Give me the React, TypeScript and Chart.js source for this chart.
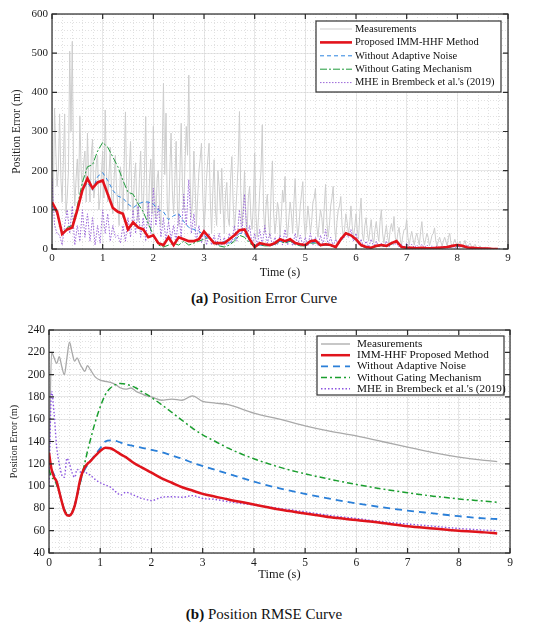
import { Chart, registerables } from "chart.js";
import { useEffect, useRef } from "react";

Chart.register(...registerables);

const SERIF = "'Liberation Serif', 'Times New Roman', serif";

// (a) position error: smooth filters every 0.1 s, MHE every 0.05 s,
// measurements every 0.025 s (on-grid samples + the samples halfway between)
const ERR_STEP = 0.05;
const ERR_STEP_COARSE = 0.1;

const errMeasurements = [
  200, 360, 160, 345, 120, 345, 130, 505, 530, 110, 230, 340, 150, 250, 296, 120, 280, 160, 240, 130,
  250, 355, 120, 260, 90, 240, 110, 210, 80, 350, 100, 275, 90, 220, 70, 250, 90, 338, 60, 230,
  313, 80, 200, 60, 423, 347, 70, 296, 90, 275, 60, 321, 100, 313, 444, 80, 250, 60, 200, 270,
  50, 180, 270, 40, 228, 60, 160, 206, 40, 170, 60, 236, 50, 150, 351, 60, 200, 40, 160, 50,
  245, 30, 150, 317, 40, 140, 30, 225, 40, 120, 30, 150, 185, 30, 120, 40, 180, 30, 110, 172,
  30, 110, 40, 120, 155, 30, 100, 40, 165, 30, 110, 160, 25, 100, 134, 30, 90, 40, 110, 30,
  90, 25, 130, 20, 80, 20, 75, 15, 70, 20, 100, 15, 60, 15, 65, 83, 15, 55, 10, 50,
  75, 10, 45, 10, 40, 10, 70, 10, 40, 8, 35, 54, 8, 30, 8, 30, 6, 40, 5, 25,
  5, 20, 4, 22, 4, 15, 3, 12, 2, 8, 2, 5, 1, 3, 1, 2, 0, 0,
];

const errMeasurementsMid = [
  120, 250, 200, 180, 230, 90, 200, 300, 200, 180, 140, 200, 220, 120, 180, 240, 130, 220, 100, 190,
  130, 200, 190, 140, 180, 150, 60, 180, 220, 150, 200, 140, 180, 110, 180, 120, 200, 110, 180, 90,
  150, 180, 90, 240, 190, 110, 200, 150, 180, 110, 200, 160, 220, 240, 180, 120, 160, 130, 230, 140,
  100, 230, 120, 150, 100, 200, 90, 110, 140, 80, 180, 120, 90, 220, 150, 110, 90, 130, 80, 120,
  90, 80, 200, 100, 110, 70, 150, 90, 70, 100, 80, 120, 70, 80, 90, 120, 80, 60, 140, 70,
  60, 80, 70, 130, 60, 70, 80, 110, 70, 60, 130, 60, 70, 110, 60, 50, 70, 60, 60, 55,
  50, 90, 40, 60, 40, 50, 30, 50, 40, 70, 40, 40, 30, 50, 45, 30, 40, 25, 35, 50,
  30, 30, 25, 30, 25, 45, 30, 25, 30, 20, 40, 20, 20, 18, 20, 20, 30, 15, 15, 15,
  12, 10, 12, 10, 10, 8, 8, 5, 5, 3, 3, 2, 2, 1, 1, 0, 0,
];

const errMhe = [
  180, 60, 40, 35, 10, 60, 100, 40, 110, 10, 60, 20, 100, 30, 90, 20, 80, 10, 60, 15,
  100, 40, 90, 20, 60, 30, 35, 15, 60, 20, 80, 30, 100, 40, 110, 30, 80, 20, 120, 40,
  155, 60, 110, 30, 80, 20, 70, 25, 60, 20, 90, 30, 140, 60, 177, 40, 90, 20, 60, 15,
  50, 10, 40, 10, 35, 8, 40, 10, 30, 10, 40, 15, 60, 20, 100, 40, 140, 30, 60, 10,
  40, 8, 50, 10, 60, 15, 40, 8, 30, 10, 35, 10, 50, 10, 30, 8, 40, 10, 35, 8,
  30, 8, 40, 10, 30, 8, 35, 10, 50, 10, 30, 8, 25, 10, 30, 25, 40, 30, 50, 20,
  40, 10, 25, 5, 20, 5, 25, 5, 20, 5, 15, 5, 20, 5, 15, 10, 15, 5, 12, 4,
  15, 5, 12, 4, 10, 3, 12, 4, 10, 3, 8, 3, 8, 2, 8, 3, 6, 2, 8, 2,
  10, 3, 8, 4, 10, 3, 5, 2, 4, 1, 3, 1, 2, 1, 1, 0, 1, 0,
];

const errProposed = [
  120, 95, 38, 50, 55, 100, 150, 180, 155, 170,
  175, 140, 105, 95, 90, 50, 68, 55, 50, 30,
  35, 15, 10, 30, 10, 30, 25, 20, 20, 25,
  45, 30, 15, 15, 15, 25, 35, 48, 50, 25,
  5, 15, 12, 10, 15, 25, 20, 25, 15, 12,
  10, 20, 22, 10, 12, 10, 5, 25, 40, 35,
  25, 10, 5, 3, 8, 10, 8, 15, 20, 5,
  3, 3, 2, 3, 2, 2, 3, 4, 5, 8,
  10, 8, 4, 3, 2, 1, 1, 0, 0,
];

const errNoAdaptive = [
  110, 90, 40, 50, 55, 95, 150, 170, 150, 185,
  195, 175, 150, 135, 130, 115, 105, 115, 120, 120,
  115, 100, 95, 75, 85, 90, 70, 55, 50, 45,
  35, 25, 20, 10, 20, 15, 25, 40, 40, 20,
  5, 10, 10, 8, 12, 20, 18, 20, 12, 10,
  8, 15, 18, 8, 10, 8, 5, 20, 38, 33,
  22, 8, 4, 3, 7, 8, 7, 13, 18, 4,
  3, 2, 2, 2, 2, 2, 2, 3, 4, 6,
  8, 6, 3, 2, 1, 1, 0, 0, 0,
];

const errNoGating = [
  120, 90, 40, 55, 60, 110, 170, 210, 215, 250,
  272, 260, 235, 210, 175, 145, 140, 115, 95, 65,
  35, 10, 5, 10, 15, 10, 20, 10, 15, 20,
  25, 30, 15, 8, 5, 10, 20, 35, 30, 15,
  5, 10, 8, 8, 12, 20, 15, 20, 12, 8,
  8, 15, 15, 8, 10, 8, 5, 22, 42, 35,
  22, 8, 3, 3, 6, 8, 6, 12, 18, 4,
  2, 2, 2, 2, 1, 1, 2, 3, 4, 6,
  8, 6, 3, 2, 1, 1, 0, 0, 0,
];

// (b) position RMSE
const rmseTime = [
  0, 0.05, 0.1, 0.15, 0.2, 0.25, 0.3, 0.35, 0.4, 0.45,
  0.5, 0.55, 0.6, 0.65, 0.7, 0.75, 0.8, 0.9,
  1.0, 1.1, 1.2, 1.3, 1.4, 1.5, 1.6, 1.7, 1.8, 1.9,
  2.0, 2.2, 2.4, 2.6, 2.8, 3.0, 3.25, 3.5,
  4, 4.5, 5, 5.5, 6, 6.5, 7, 7.5, 8, 8.5, 8.75,
];
const rmseMeasurements = [
  110, 220, 215, 210, 216, 207, 200, 215, 229, 220,
  212, 215, 210, 206, 203, 208, 205, 198,
  195, 194, 193, 191, 188, 187, 188, 185, 183, 181,
  180, 177, 178, 177, 181, 176, 174.5, 173,
  165.5, 160, 154, 149, 145, 140, 135, 130, 126, 123, 122,
];
const rmseProposed = [
  130, 115, 108, 104, 95, 86, 78, 74, 73.5, 76,
  82, 92, 104, 112, 117, 120, 122, 127,
  131.5, 134.5, 134, 131.5, 128.5, 126, 122.5, 119.5, 117, 114.5,
  112, 107, 103, 99, 96, 93, 90.5, 88,
  83.5, 79, 75.5, 72, 69.5, 67, 64, 62, 60, 58.5, 57.5,
];
const rmseNoAdaptive = [
  125, 115, 110, 103, 95, 86, 79, 75, 74, 76,
  82, 92, 102, 110, 115, 119, 122, 128,
  134, 140, 141, 140.5, 139, 137.5, 136.5, 135.5, 134.5, 133.5,
  132.5, 130.5, 127.5, 124.5, 121, 118, 114.5, 111,
  104, 98, 93, 88.5, 84.5, 81, 78, 75.5, 73, 71, 70.5,
];
const rmseNoGating = [
  115, 108, 106, 101, 94, 86, 79, 75, 74, 77,
  83, 92, 101, 111, 121, 131, 140, 157,
  171, 182, 188, 191, 192, 191.5, 190, 188, 185, 182.5,
  179.5, 173, 166, 159, 152, 146, 140, 134,
  124.5, 117, 111, 106, 101.5, 97.5, 94, 91, 88.5, 86.5, 85.5,
];
const rmseMhe = [
  100, 185, 165, 135, 120, 110, 108, 125, 120, 112,
  108, 115, 113, 112, 113, 111, 110, 106,
  103, 101, 99, 95, 92, 94.5, 93, 91, 89, 88,
  87, 90, 90.5, 90, 91.5, 89, 88, 86,
  83, 80, 77, 73.5, 71, 68, 66, 64, 62, 60.5, 60,
];

const even = (vals: number[], step: number) => vals.map((v, i) => ({ x: i * step, y: v }));
const paired = (xs: number[], vals: number[]) => vals.map((v, i) => ({ x: xs[i], y: v }));
// on-grid samples followed by the in-between ones, then sorted by time
const interleaved = (onGrid: number[], mid: number[], step: number) =>
  [...even(onGrid, step), ...mid.map((v, i) => ({ x: i * step + step / 2, y: v }))].sort((a, b) => a.x - b.x);

type Trace = {
  label: string;
  points: { x: number; y: number }[];
  color: string;
  width: number;
  dash: number[];
  smooth?: boolean;
};

type Panel = {
  traces: Trace[];
  width: number;
  height: number;
  yMin: number;
  yMax: number;
  yStep: number;
  yMinor: number;
  xMinor: number;
  pad: { left: number; right: number; top: number };
  yAxisWidth: number;
  xAxisHeight: number;
  tickFont: number;
  xTitleFont: number;
  yTitleFont: number;
  yTitlePad: number;
  legend: { left: number; top: number; width: number; height: number; firstRow: number; rowGap: number; sample: number; textX: number; font: number };
};

// minor dotted grid underneath, box frame with inward ticks and the legend on top
const boxPlugin = {
  id: "box",
  beforeDatasetsDraw(chart: any, _args: any, opts: any) {
    const { ctx, chartArea: a, scales } = chart;
    ctx.save();
    ctx.strokeStyle = "#d4d4d4";
    ctx.lineWidth = 0.7;
    ctx.setLineDash([1, 2]);
    ctx.beginPath();
    for (let v = scales.x.min; v <= scales.x.max + 1e-6; v += opts.xMinor) {
      const px = Math.round(scales.x.getPixelForValue(v)) + 0.5;
      ctx.moveTo(px, a.top);
      ctx.lineTo(px, a.bottom);
    }
    for (let v = scales.y.min; v <= scales.y.max + 1e-6; v += opts.yMinor) {
      const py = Math.round(scales.y.getPixelForValue(v)) + 0.5;
      ctx.moveTo(a.left, py);
      ctx.lineTo(a.right, py);
    }
    ctx.stroke();
    ctx.restore();
  },
  afterDatasetsDraw(chart: any, _args: any, opts: any) {
    const { ctx, chartArea: a, scales } = chart;
    ctx.save();
    ctx.strokeStyle = "#2b2b2b";
    ctx.lineWidth = 1.2;
    ctx.setLineDash([]);
    ctx.strokeRect(a.left, a.top, a.right - a.left, a.bottom - a.top);
    ctx.beginPath();
    scales.x.ticks.forEach((t: any) => {
      const px = scales.x.getPixelForValue(t.value);
      ctx.moveTo(px, a.bottom);
      ctx.lineTo(px, a.bottom - 5);
      ctx.moveTo(px, a.top);
      ctx.lineTo(px, a.top + 5);
    });
    scales.y.ticks.forEach((t: any) => {
      const py = scales.y.getPixelForValue(t.value);
      ctx.moveTo(a.left, py);
      ctx.lineTo(a.left + 5, py);
      ctx.moveTo(a.right, py);
      ctx.lineTo(a.right - 5, py);
    });
    ctx.stroke();

    const lg = opts.legend;
    ctx.fillStyle = "#ffffff";
    ctx.fillRect(lg.left, lg.top, lg.width, lg.height);
    ctx.strokeStyle = "#333333";
    ctx.lineWidth = 1.2;
    ctx.strokeRect(lg.left, lg.top, lg.width, lg.height);
    ctx.font = `${lg.font}px ${SERIF}`;
    ctx.textBaseline = "middle";
    chart.data.datasets.forEach((ds: any, i: number) => {
      const y = lg.top + lg.firstRow + i * lg.rowGap;
      ctx.strokeStyle = ds.borderColor;
      ctx.lineWidth = ds.borderWidth;
      ctx.setLineDash(ds.borderDash || []);
      ctx.beginPath();
      ctx.moveTo(lg.left + 4, y);
      ctx.lineTo(lg.left + 4 + lg.sample, y);
      ctx.stroke();
      ctx.fillStyle = "#111111";
      ctx.fillText(ds.label, lg.left + lg.textX, y);
    });
    ctx.restore();
  },
};

function ErrorPanel({ panel }: { panel: Panel }) {
  const chartRef = useRef<HTMLCanvasElement>(null);
  const chartInstanceRef = useRef<Chart | null>(null);

  useEffect(() => {
    if (!chartRef.current) return;
    if (chartInstanceRef.current) chartInstanceRef.current.destroy();

    chartInstanceRef.current = new Chart(chartRef.current, {
      type: "line",
      data: {
        datasets: panel.traces.map((t, i) => ({
          label: t.label,
          data: t.points,
          borderColor: t.color,
          borderWidth: t.width,
          borderDash: t.dash,
          pointRadius: 0,
          fill: false,
          tension: 0,
          cubicInterpolationMode: t.smooth ? "monotone" : "default",
          // first legend entry (measurements) lies underneath, proposed method on top
          order: i === 0 ? 10 : i === 1 ? 0 : i,
        })),
      } as any,
      plugins: [boxPlugin],
      options: {
        animation: false,
        responsive: false,
        layout: { padding: { left: panel.pad.left, right: panel.pad.right, top: panel.pad.top, bottom: 0 } },
        plugins: {
          legend: { display: false },
          tooltip: { enabled: false },
          box: { xMinor: panel.xMinor, yMinor: panel.yMinor, legend: panel.legend },
        } as any,
        scales: {
          x: {
            type: "linear",
            min: 0,
            max: 9,
            afterFit: (s: any) => {
              s.height = panel.xAxisHeight;
            },
            ticks: { stepSize: 1, color: "#1a1a1a", padding: 3, font: { family: SERIF, size: panel.tickFont } },
            grid: { color: "#e2e2e2", lineWidth: 0.8, drawTicks: false },
            border: { display: false },
            title: { display: true, text: "Time (s)", color: "#1a1a1a", padding: 0, font: { family: SERIF, size: panel.xTitleFont } },
          },
          y: {
            type: "linear",
            min: panel.yMin,
            max: panel.yMax,
            afterFit: (s: any) => {
              s.width = panel.yAxisWidth;
            },
            ticks: { stepSize: panel.yStep, color: "#1a1a1a", padding: 4, font: { family: SERIF, size: panel.tickFont } },
            grid: { color: "#e2e2e2", lineWidth: 0.8, drawTicks: false },
            border: { display: false },
            title: {
              display: true,
              text: "Position Error (m)",
              color: "#1a1a1a",
              padding: { top: panel.yTitlePad, bottom: 0 },
              font: { family: SERIF, size: panel.yTitleFont },
            },
          },
        },
      },
    });

    return () => {
      if (chartInstanceRef.current) {
        chartInstanceRef.current.destroy();
        chartInstanceRef.current = null;
      }
    };
  }, [panel]);

  return <canvas ref={chartRef} width={panel.width} height={panel.height}></canvas>;
}

const errorPanel: Panel = {
  traces: [
    { label: "Measurements", points: interleaved(errMeasurements, errMeasurementsMid, ERR_STEP), color: "#cdcdcd", width: 1, dash: [] },
    { label: "Proposed IMM-HHF Method", points: even(errProposed, ERR_STEP_COARSE), color: "#e3121b", width: 2.6, dash: [] },
    { label: "Without Adaptive Noise", points: even(errNoAdaptive, ERR_STEP_COARSE), color: "#2b83e0", width: 1, dash: [4, 3] },
    { label: "Without Gating Mechanism", points: even(errNoGating, ERR_STEP_COARSE), color: "#1f9a3b", width: 1, dash: [7, 2, 2, 2] },
    { label: "MHE in Brembeck et al.'s (2019)", points: even(errMhe, ERR_STEP), color: "#9a66d8", width: 1, dash: [1.5, 1.5] },
  ],
  width: 550,
  height: 280,
  yMin: 0,
  yMax: 600,
  yStep: 100,
  yMinor: 20,
  xMinor: 0.2,
  pad: { left: 0, right: 42, top: 14 },
  yAxisWidth: 52,
  xAxisHeight: 31,
  tickFont: 11,
  xTitleFont: 12,
  yTitleFont: 11.5,
  yTitlePad: 10,
  legend: { left: 316, top: 21, width: 185, height: 71, firstRow: 8, rowGap: 13.4, sample: 32, textX: 39, font: 10.5 },
};

const rmsePanel: Panel = {
  traces: [
    { label: "Measurements", points: paired(rmseTime, rmseMeasurements), color: "#a9a9a9", width: 1.3, dash: [], smooth: true },
    { label: "IMM-HHF Proposed Method", points: paired(rmseTime, rmseProposed), color: "#e0141c", width: 2.5, dash: [], smooth: true },
    { label: "Without Adaptive Noise", points: paired(rmseTime, rmseNoAdaptive), color: "#2a7fd8", width: 1.8, dash: [7, 5], smooth: true },
    { label: "Without Gating Mechanism", points: paired(rmseTime, rmseNoGating), color: "#1a9e2e", width: 1.5, dash: [6, 3, 2, 3], smooth: true },
    { label: "MHE in Brembeck et al.'s (2019)", points: paired(rmseTime, rmseMhe), color: "#8b55e0", width: 1.4, dash: [1.5, 2], smooth: true },
  ],
  width: 550,
  height: 266,
  yMin: 40,
  yMax: 240,
  yStep: 20,
  yMinor: 5,
  xMinor: 0.2,
  pad: { left: 0, right: 40, top: 14 },
  yAxisWidth: 49,
  xAxisHeight: 29,
  tickFont: 11.5,
  xTitleFont: 12.5,
  yTitleFont: 10,
  yTitlePad: 8,
  legend: { left: 317, top: 20, width: 187, height: 59, firstRow: 8, rowGap: 11.2, sample: 29, textX: 40, font: 11.2 },
};

const captionStyle = {
  position: "absolute" as const,
  left: 0,
  width: 528,
  textAlign: "center" as const,
  fontFamily: SERIF,
  fontSize: 15,
  fontWeight: 400,
  lineHeight: "16px",
  color: "#111",
};

export default function App() {
  return (
    <div style={{ position: "absolute", left: 0, top: 0, width: 550, height: 629, background: "#fff", overflow: "hidden" }}>
      <div style={{ position: "absolute", left: 0, top: 0 }}>
        <ErrorPanel panel={errorPanel} />
      </div>
      <div style={{ ...captionStyle, top: 290 }}>
        <b>(a)</b> Position Error Curve
      </div>
      <div style={{ position: "absolute", left: 0, top: 316 }}>
        <ErrorPanel panel={rmsePanel} />
      </div>
      <div style={{ ...captionStyle, top: 606 }}>
        <b>(b)</b> Position RMSE Curve
      </div>
    </div>
  );
}
